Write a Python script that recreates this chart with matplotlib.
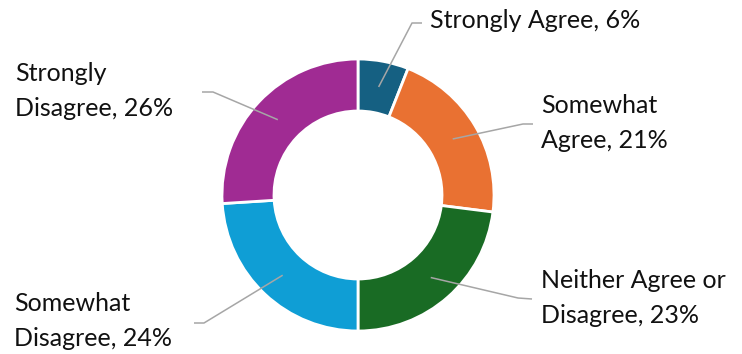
import math
import matplotlib
matplotlib.use("Agg")
import matplotlib.pyplot as plt

# survey response shares, clockwise from 12 o'clock
categories = ["Strongly Agree", "Somewhat Agree", "Neither Agree or Disagree",
              "Somewhat Disagree", "Strongly Disagree"]
shares = [6, 21, 23, 24, 26]
colors = ["#156082", "#E97132", "#196B24", "#0F9ED5", "#A02B93"]

W, H = 742, 354
CX, CY = 358, 195          # donut centre in pixel space (y down)
R_OUT, RING = 136, 52
LINE_C = "#A6A6A6"

# label text block: left x, line-centre y; leader: elbow and end points
labels = [
    ("Strongly Agree, 6%", 430, 21, (412, 23), (422, 23)),
    ("Somewhat\nAgree, 21%", 541, 123, (523, 124), (533, 124)),
    ("Neither Agree or\nDisagree, 23%", 541, 298, (518, 298), (532, 299)),
    ("Somewhat\nDisagree, 24%", 14, 321, (204, 323), (194, 323)),
    ("Strongly\nDisagree, 26%", 15, 91, (213, 92), (202, 92)),
]


def flip(y):
    return H - y


fig = plt.figure(figsize=(W / 100, H / 100), dpi=100)
fig.patch.set_facecolor("white")
ax = fig.add_axes([0, 0, 1, 1])

ax.pie(shares, colors=colors, startangle=90, counterclock=False,
       center=(CX, flip(CY)), radius=R_OUT,
       wedgeprops=dict(width=RING, edgecolor="white", linewidth=2))
ax.set_xlim(0, W)
ax.set_ylim(0, H)
ax.set_aspect("equal")
ax.axis("off")

# leader lines start at the middle of each ring segment
start = 0
r_mid = R_OUT - RING / 2
for share, (txt, tx, ty, elbow, end) in zip(shares, labels):
    mid = start + share / 2
    ang = math.radians(90 - mid / sum(shares) * 360)
    ax0 = CX + r_mid * math.cos(ang)
    ay0 = CY - r_mid * math.sin(ang)
    start += share
    ax.plot([ax0, elbow[0], end[0]], [flip(ay0), flip(elbow[1]), flip(end[1])],
            color=LINE_C, lw=1.1, solid_capstyle="butt", zorder=5)
    ax.text(tx, flip(ty), txt, ha="left", va="center", fontsize=18,
            family="Lato", color="#111111", linespacing=1.62)

fig.savefig("out.png", dpi=100, facecolor="white")
